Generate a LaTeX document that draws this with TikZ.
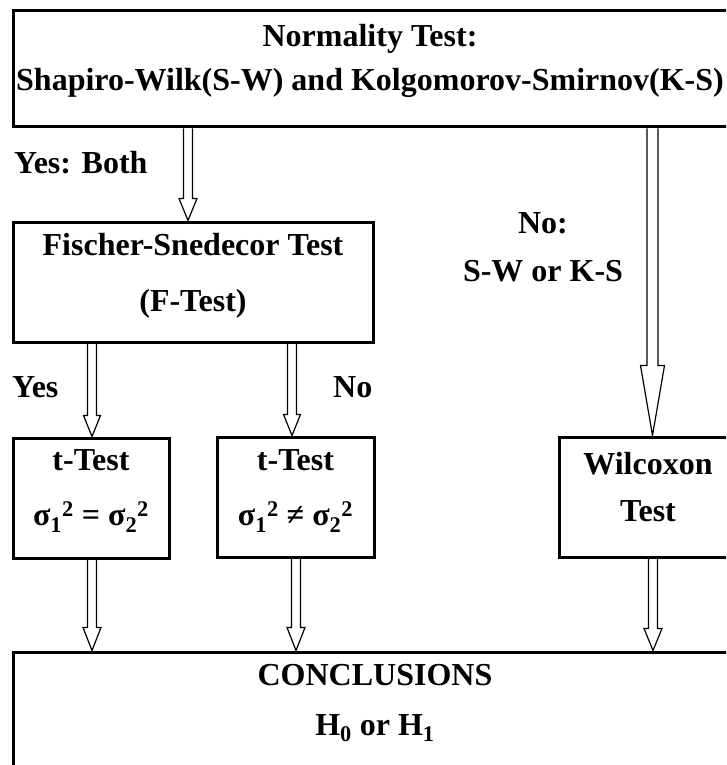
\documentclass[tikz,border=0pt]{standalone}
\usepackage{fontspec}
\setmainfont{Liberation Serif}
\usetikzlibrary{calc}

\tikzset{
  box/.style={draw=black, line width=3pt, inner sep=0pt},
  lbl/.style={font=\bfseries\fontsize{32}{#1}\selectfont, align=center, inner sep=0pt},
  lbl/.default=50,
  hollow/.style={draw=black, line width=1.2pt, line join=miter},
}

% Hollow block arrow pointing down:
% #1 x position, #2 source node, #3 target node,
% #4 half shaft width, #5 half head width, #6 head length
\newcommand\hollowarrow[6]{%
  \draw[hollow] let \p1=(#2.south), \p2=(#3.north), \p3=(#1,0) in
    (\x3-#4pt,\y1) -- (\x3-#4pt,\y2+#6pt) -- (\x3-#5pt,\y2+#6pt) -- (\x3,\y2)
    -- (\x3+#5pt,\y2+#6pt) -- (\x3+#4pt,\y2+#6pt) -- (\x3+#4pt,\y1);
}

\begin{document}
\begin{tikzpicture}[x=1pt,y=-1pt]
\useasboundingbox (0,0) rectangle (726,765);
\clip (0,0) rectangle (726,765);

% boxes
\node[box, minimum width=722, minimum height=116] (norm) at (374,69) {};
\node[box, minimum width=360, minimum height=120] (fts) at (193,282) {};
\node[box, minimum width=156, minimum height=120] (tone) at (91,498) {};
\node[box, minimum width=157, minimum height=120] (ttwo) at (295.5,497) {};
\node[box, minimum width=178, minimum height=120] (wil) at (648,497) {};
\node[box, minimum width=724, minimum height=168] (conc) at (375,736) {};

% box texts
\node[lbl=44] (normtxt) at (370,61) {Normality Test:\\Shapiro-Wilk(S-W) and Kolgomorov-Smirnov(K-S)};
\node[lbl=56] (ftstxt) at (193,276) {Fischer-Snedecor Test\\(F-Test)};
\node[lbl=55] (tonetxt) at (91,491) {t-Test\\σ\textsubscript{1}\textsuperscript{2} = σ\textsubscript{2}\textsuperscript{2}};
\node[lbl=55] (ttwotxt) at (295.5,491) {t-Test\\σ\textsubscript{1}\textsuperscript{2} ≠ σ\textsubscript{2}\textsuperscript{2}};
\node[lbl=47] (wiltxt) at (648,487) {Wilcoxon\\Test};
\node[lbl=50] (conctxt) at (375,703) {CONCLUSIONS\\H\textsubscript{0} or H\textsubscript{1}};

% branch labels
\node[lbl, anchor=west] (yesboth) at (14,163) {Yes: Both};
\node[lbl=48] (nolbl) at (543,247) {No:\\S-W or K-S};
\node[lbl, anchor=west] (yes) at (12,387) {Yes};
\node[lbl, anchor=west] (no) at (333,387) {No};

% connectors
\hollowarrow{188}{norm}{fts}{4.5}{9}{22}
\hollowarrow{652.5}{norm}{wil}{5.5}{12}{70}
\hollowarrow{92}{fts}{tone}{4.5}{8.5}{21}
\hollowarrow{292}{fts}{ttwo}{4.5}{8.5}{21}
\hollowarrow{92}{tone}{conc}{4.5}{9}{23}
\hollowarrow{296}{ttwo}{conc}{4.5}{9}{23}
\hollowarrow{653}{wil}{conc}{4.5}{9}{22}
\end{tikzpicture}
\end{document}
